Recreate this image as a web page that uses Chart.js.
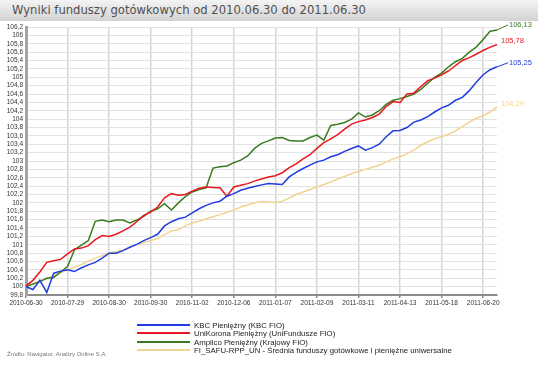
<!DOCTYPE html>
<html>
<head>
<meta charset="utf-8">
<script src="https://cdn.jsdelivr.net/npm/chart.js@4"></script>
<style>
  body { margin: 0; background: #fff; width: 538px; height: 370px; position: relative; overflow: hidden; font-family: "Liberation Sans", Arial, sans-serif; }
  #titlebar { position: absolute; left: 0; top: 0; width: 538px; height: 21px; background: linear-gradient(#f4f4f4, #d2d2d2); }
  #title { position: absolute; left: 12px; top: 3px; font: 11.6px "DejaVu Sans", sans-serif; color: #505050; white-space: nowrap; }
  #chart { position: absolute; left: 0; top: 0; }
  #legend { position: absolute; left: 137px; top: 322px; font-size: 7.8px; color: #222; line-height: 8.4px; }
  #legend div { white-space: nowrap; height: 8.4px; }
  #legend span.ln { display: inline-block; width: 53px; height: 2px; vertical-align: middle; margin-right: 4px; position: relative; top: -1px; }
  #source { position: absolute; left: 7px; top: 351px; font-size: 6px; color: #777; white-space: nowrap; }
</style>
</head>
<body>
<div id="titlebar"></div>
<div id="title">Wyniki funduszy gotówkowych od 2010.06.30 do 2011.06.30</div>
<canvas id="chart" width="538" height="370"></canvas>
<div id="legend"></div>
<div id="source">Źródło: Navigator, Analizy Online S.A.</div>
<script>
// tick dates (one every 6 samples)
const tickDates = ['2010-06-30', '2010-07-29', '2010-08-30', '2010-09-30', '2010-11-02', '2010-12-06',
  '2011-01-07', '2011-02-09', '2011-03-11', '2011-04-13', '2011-05-18', '2011-06-20'];
const samplesPerTick = 6;

const seriesNames = ['KBC Pieniężny (KBC FIO)', 'UniKorona Pieniężny (UniFundusze FIO)',
  'Amplico Pieniężny (Krajowy FIO)', 'FI_SAFU-RPP_UN - Średnia funduszy gotówkowe i pieniężne uniwersalne'];
const seriesColors = ['#1f3de0', '#e8181e', '#3a7b20', '#f0d592'];

const kbc = [100.0, 99.93, 100.15, 99.86, 100.32, 100.37,
  100.4, 100.36, 100.45, 100.52, 100.58, 100.68,
  100.8, 100.8, 100.86, 100.94, 101.01, 101.1,
  101.17, 101.25, 101.45, 101.55, 101.62, 101.66,
  101.76, 101.86, 101.94, 102.0, 102.04, 102.16,
  102.22, 102.3, 102.35, 102.39, 102.43, 102.46,
  102.45, 102.44, 102.62, 102.73, 102.82, 102.9,
  102.98, 103.02, 103.1, 103.15, 103.23, 103.3,
  103.36, 103.26, 103.32, 103.4, 103.58, 103.72,
  103.73, 103.8, 103.93, 103.98, 104.06, 104.17,
  104.27, 104.33, 104.45, 104.52, 104.68, 104.88,
  105.06, 105.18, 105.25];

const uniKorona = [100.02, 100.15, 100.35, 100.58, 100.62, 100.65,
  100.78, 100.9, 100.92, 100.98, 101.12, 101.22,
  101.2, 101.25, 101.33, 101.42, 101.55, 101.7,
  101.78, 101.9, 102.12, 102.22, 102.18, 102.2,
  102.28, 102.35, 102.38, 102.37, 102.36, 102.16,
  102.38, 102.42, 102.46, 102.52, 102.57, 102.62,
  102.65, 102.72, 102.84, 102.93, 103.05, 103.15,
  103.3, 103.44, 103.53, 103.63, 103.76, 103.88,
  103.94, 103.98, 104.04, 104.12, 104.3, 104.42,
  104.4, 104.6, 104.62, 104.78, 104.92, 104.98,
  105.06, 105.15, 105.28, 105.4, 105.47, 105.55,
  105.64, 105.72, 105.78];

const amplico = [100.0, 100.06, 100.12, 100.2, 100.22, 100.35,
  100.48, 100.88, 100.99, 101.1, 101.56, 101.59,
  101.55, 101.59, 101.59, 101.52, 101.59, 101.68,
  101.8, 101.86, 101.98, 101.83, 102.0, 102.15,
  102.26, 102.32, 102.36, 102.83, 102.86, 102.88,
  102.96, 103.02, 103.12, 103.3, 103.42, 103.48,
  103.55, 103.56, 103.49, 103.48, 103.48, 103.56,
  103.62, 103.5, 103.85, 103.88, 103.92, 104.0,
  104.15, 104.05, 104.1, 104.2, 104.35, 104.45,
  104.49, 104.54, 104.6, 104.71, 104.86, 105.0,
  105.1, 105.25, 105.37, 105.45, 105.6, 105.72,
  105.9, 106.1, 106.13];

const safuAvg = [100.02, 100.07, 100.14, 100.2, 100.26, 100.33,
  100.4, 100.47, 100.53, 100.61, 100.68, 100.74,
  100.81, 100.83, 100.87, 100.95, 101.0, 101.05,
  101.1, 101.15, 101.24, 101.33, 101.36, 101.45,
  101.52, 101.56, 101.62, 101.67, 101.72, 101.77,
  101.83, 101.9, 101.95, 102.0, 102.03, 102.02,
  102.01, 102.04, 102.12, 102.2, 102.26, 102.32,
  102.38, 102.44, 102.5, 102.57, 102.63, 102.7,
  102.75, 102.8, 102.85, 102.9, 102.98, 103.05,
  103.1, 103.17, 103.26, 103.37, 103.46, 103.53,
  103.58, 103.64, 103.72, 103.82, 103.93, 104.02,
  104.08, 104.17, 104.29];

const allSeries = [kbc, uniKorona, amplico, safuAvg];

// where each end-value label sits relative to the last point
const endLabelPos = [
  { dx: 12, dy: -4, leader: true },
  { dx: 4, dy: -4, leader: false },
  { dx: 12, dy: -5, leader: true },
  { dx: 4, dy: -3, leader: false }
];

const fmt = v => String(Math.round(v * 100) / 100).replace('.', ',');

const endLabels = {
  id: 'endLabels',
  afterDatasetsDraw(chart) {
    const ctx = chart.ctx;
    ctx.save();
    ctx.font = '7.5px "Liberation Sans", Arial, sans-serif';
    ctx.textBaseline = 'middle';
    chart.data.datasets.forEach((ds, i) => {
      const meta = chart.getDatasetMeta(i);
      const p = meta.data[meta.data.length - 1];
      const pos = endLabelPos[i];
      const tx = p.x + pos.dx, ty = p.y + pos.dy;
      if (pos.leader) {
        ctx.strokeStyle = ds.borderColor;
        ctx.lineWidth = 1;
        ctx.beginPath();
        ctx.moveTo(p.x, p.y);
        ctx.lineTo(tx - 1, ty);
        ctx.stroke();
      }
      ctx.fillStyle = ds.borderColor;
      ctx.fillText(fmt(ds.data[ds.data.length - 1].y), tx, ty);
    });
    ctx.restore();
  }
};

// legend
const legendEl = document.getElementById('legend');
seriesNames.forEach((name, i) => {
  const row = document.createElement('div');
  row.innerHTML = '<span class="ln" style="background:' + seriesColors[i] + '"></span>' + name;
  legendEl.appendChild(row);
});

new Chart(document.getElementById('chart'), {
  type: 'line',
  data: {
    datasets: allSeries.map((s, i) => ({
      label: seriesNames[i],
      data: s.map((v, k) => ({ x: k, y: v })),
      borderColor: seriesColors[i],
      borderWidth: 1.5,
      pointRadius: 0,
      tension: 0,
      fill: false
    }))
  },
  options: {
    responsive: false,
    animation: false,
    layout: { padding: { left: 0, top: 27, right: 41, bottom: 61 } },
    plugins: { legend: { display: false }, tooltip: { enabled: false } },
    scales: {
      x: {
        type: 'linear',
        min: 0,
        max: kbc.length - 1,
        afterBuildTicks: scale => { scale.ticks = tickDates.map((d, i) => ({ value: i * samplesPerTick })); },
        afterFit: scale => { scale.height = 14; },
        ticks: {
          autoSkip: false, maxRotation: 0, padding: 1,
          color: '#333', font: { size: 6.5, family: '"Liberation Sans", Arial, sans-serif' },
          callback: (v, idx) => tickDates[idx]
        },
        grid: { color: '#d6d6d6', lineWidth: 1.5, tickLength: 3, tickColor: '#888' },
        border: { color: '#8c8c8c', width: 2 }
      },
      y: {
        min: 99.8,
        max: 106.2,
        afterFit: scale => { scale.width = 26; },
        ticks: {
          stepSize: 0.2, autoSkip: false, padding: 3,
          color: '#333', font: { size: 6.5, family: '"Liberation Sans", Arial, sans-serif' },
          callback: v => String(Math.round(v * 10) / 10).replace('.', ',')
        },
        grid: { color: '#e2e2e2', lineWidth: 1, drawTicks: false },
        border: { color: '#a4a4a4', width: 3 }
      }
    }
  },
  plugins: [endLabels]
});
</script>
</body>
</html>
